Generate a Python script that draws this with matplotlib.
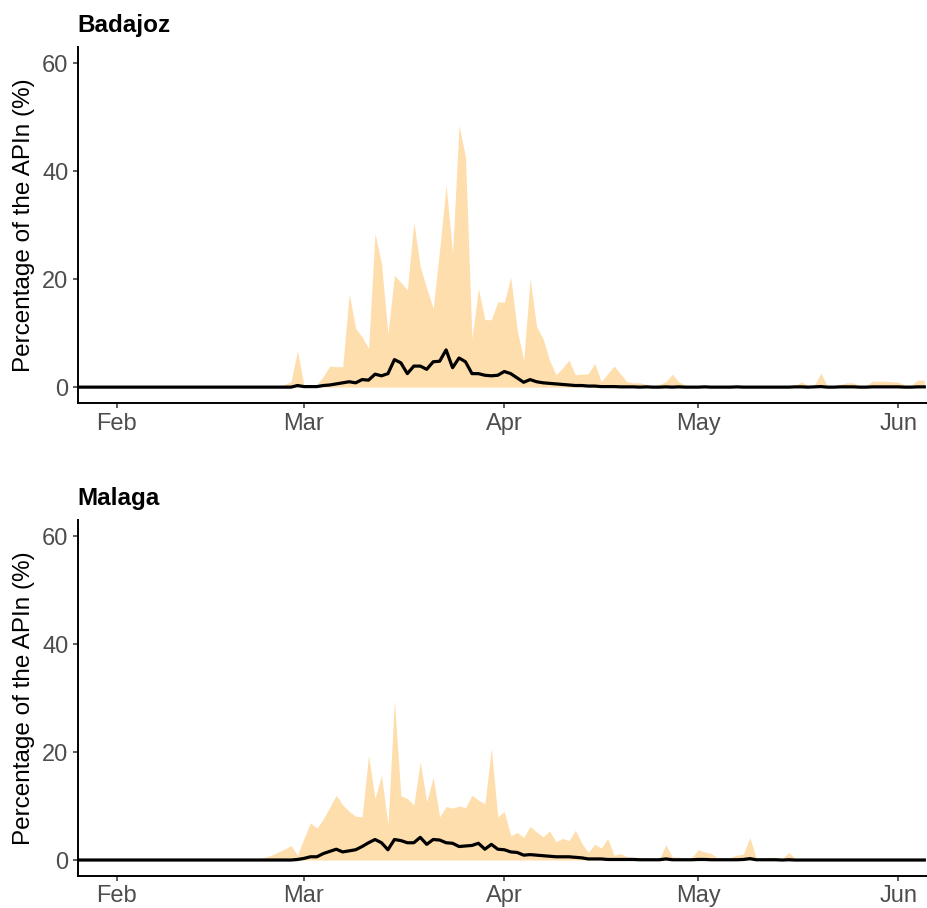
import matplotlib
matplotlib.use("Agg")
import matplotlib.pyplot as plt
import matplotlib.dates as mdates
import numpy as np
import pandas as pd

# daily values, 2020-01-26 .. 2020-06-05
start_date = "2020-01-26"
end_date = "2020-06-05"

badajoz_max = [
    0, 0, 0, 0, 0, 0, 0, 0, 0, 0,
    0, 0, 0, 0, 0, 0, 0, 0, 0, 0,
    0, 0, 0, 0, 0, 0, 0, 0, 0, 0,
    0, 0, 0.5, 1.0, 6.8, 0.3, 0.0, 0.5, 2.0, 3.9,
    3.8, 3.8, 17.3, 10.9, 9.3, 7.2, 28.5, 22.9, 9.9, 20.7,
    19.4, 18.0, 30.6, 22.3, 18.3, 14.6, 25.5, 37.4, 24.8, 48.5,
    42.6, 9.0, 18.3, 12.5, 12.5, 15.8, 15.7, 20.4, 10.6, 5.0,
    20.1, 11.2, 9.0, 5.0, 2.3, 3.5, 5.0, 2.3, 2.4, 2.5,
    4.4, 1.0, 2.5, 3.9, 2.4, 1.0, 0.8, 0.8, 0.5, 0.2,
    0.5, 1.0, 2.4, 1.0, 0.4, 0.2, 0.1, 0.1, 0.0, 0.1,
    0.0, 0.1, 0.0, 0.0, 0.1, 0.0, 0.0, 0.0, 0.1, 0.0,
    0.0, 0.3, 1.0, 0.3, 0.4, 2.6, 0.2, 0.3, 0.5, 0.8,
    0.8, 0.3, 0.3, 1.1, 1.1, 1.1, 1.0, 0.9, 0.4, 0.4,
    1.3, 1.3,
]
badajoz_mean = [
    0, 0, 0, 0, 0, 0, 0, 0, 0, 0,
    0, 0, 0, 0, 0, 0, 0, 0, 0, 0,
    0, 0, 0, 0, 0, 0, 0, 0, 0, 0,
    0, 0, 0, 0, 0.3, 0.1, 0.1, 0.1, 0.3, 0.4,
    0.6, 0.8, 1.0, 0.8, 1.4, 1.3, 2.4, 2.1, 2.5, 5.1,
    4.5, 2.5, 3.9, 3.9, 3.3, 4.7, 4.8, 6.9, 3.6, 5.4,
    4.7, 2.5, 2.5, 2.2, 2.1, 2.2, 2.9, 2.5, 1.7, 0.9,
    1.4, 1.0, 0.8, 0.7, 0.6, 0.5, 0.4, 0.3, 0.3, 0.2,
    0.2, 0.1, 0.1, 0.1, 0.05, 0.05, 0.05, 0.0, 0.05, 0.0,
    0.0, 0.05, 0.0, 0.05, 0.0, 0.0, 0.0, 0.05, 0.0, 0.0,
    0.0, 0.0, 0.05, 0.0, 0.0, 0.0, 0.0, 0.0, 0.0, 0.0,
    0.0, 0.05, 0.05, 0.0, 0.05, 0.1, 0.0, 0.0, 0.05, 0.05,
    0.05, 0.0, 0.0, 0.05, 0.05, 0.05, 0.05, 0.05, 0.0, 0.0,
    0.05, 0.05,
]

malaga_max = [
    0, 0, 0, 0, 0, 0, 0, 0, 0, 0,
    0, 0, 0, 0, 0, 0, 0, 0, 0, 0,
    0, 0, 0, 0, 0, 0, 0, 0, 0.3, 0.5,
    0.9, 1.5, 2.0, 2.7, 0.9, 4.0, 6.9, 5.9, 7.6, 9.8,
    12.0, 10.2, 9.0, 8.1, 8.0, 19.4, 11.4, 15.7, 6.5, 29.6,
    11.9, 11.4, 10.2, 18.2, 10.8, 15.3, 8.0, 9.9, 9.6, 10.0,
    9.7, 12.0, 11.1, 10.4, 20.7, 8.0, 9.0, 4.5, 5.1, 4.2,
    6.2, 5.2, 4.3, 5.4, 3.4, 4.0, 3.6, 5.5, 3.1, 1.4,
    2.9, 2.2, 4.0, 0.9, 1.2, 0.6, 0.5, 0.5, 0.0, 0.1,
    0.2, 2.8, 0.6, 0.5, 0.4, 0.5, 1.9, 1.5, 1.2, 0.4,
    0.3, 0.5, 0.9, 1.1, 4.2, 0.3, 0.3, 0.5, 0.5, 0.2,
    1.4, 0.3, 0.1, 0.0, 0.0, 0.0, 0.1, 0.1, 0.1, 0.1,
    0.1, 0.1, 0.0, 0.0, 0.0, 0.0, 0.0, 0.0, 0.0, 0.0,
    0.0, 0.0,
]
malaga_mean = [
    0, 0, 0, 0, 0, 0, 0, 0, 0, 0,
    0, 0, 0, 0, 0, 0, 0, 0, 0, 0,
    0, 0, 0, 0, 0, 0, 0, 0, 0, 0,
    0, 0, 0, 0, 0.1, 0.3, 0.6, 0.6, 1.2, 1.6,
    2.0, 1.5, 1.7, 1.9, 2.5, 3.2, 3.8, 3.2, 1.9, 3.8,
    3.6, 3.2, 3.2, 4.2, 2.9, 3.8, 3.7, 3.2, 3.1, 2.5,
    2.6, 2.7, 3.1, 2.0, 2.9, 2.0, 1.9, 1.5, 1.4, 0.9,
    1.0, 0.9, 0.8, 0.7, 0.6, 0.6, 0.6, 0.5, 0.4, 0.2,
    0.2, 0.2, 0.1, 0.1, 0.1, 0.1, 0.1, 0.05, 0.05, 0.05,
    0.05, 0.2, 0.05, 0.05, 0.05, 0.05, 0.1, 0.1, 0.05, 0.05,
    0.05, 0.05, 0.05, 0.1, 0.25, 0.05, 0.05, 0.05, 0.05, 0.0,
    0.05, 0.0, 0.0, 0.0, 0.0, 0.0, 0.0, 0.0, 0.0, 0.0,
    0.0, 0.0, 0.0, 0.0, 0.0, 0.0, 0.0, 0.0, 0.0, 0.0,
    0.0, 0.0,
]

panels = [
    ("Badajoz", badajoz_max, badajoz_mean),
    ("Malaga", malaga_max, malaga_mean),
]

dates = pd.date_range(start_date, end_date, freq="D")

plt.rcParams["font.family"] = ["Liberation Sans", "DejaVu Sans"]

fig = plt.figure(figsize=(9.27, 9.08), dpi=100)
# [left, bottom, width, height] picked to match the reference layout
boxes = [[0.0838, 0.5558, 0.9162, 0.3924],
         [0.0838, 0.0350, 0.9162, 0.3925]]

for box, (name, upper, mean) in zip(boxes, panels):
    ax = fig.add_axes(box)
    ax.fill_between(dates, 0, upper, color="#FFDEAD", linewidth=0)
    ax.plot(dates, mean, color="black", linewidth=2.3)

    ax.set_ylim(-3, 63)
    ax.set_yticks([0, 20, 40, 60])
    ax.set_xlim(pd.Timestamp("2020-01-25 23:40"), pd.Timestamp("2020-06-05 10:00"))
    ax.xaxis.set_major_locator(mdates.MonthLocator())
    ax.xaxis.set_major_formatter(mdates.DateFormatter("%b"))

    for side in ("top", "right"):
        ax.spines[side].set_visible(False)
    for side in ("left", "bottom"):
        ax.spines[side].set_linewidth(1.4)
    ax.tick_params(length=3.6, width=1.1, color="#333333",
                   labelsize=17, labelcolor="#4D4D4D")
    ax.tick_params(axis="x", pad=3)
    ax.tick_params(axis="y", pad=3)

    ax.set_ylabel("Percentage of the APIn (%)", fontsize=17.5, labelpad=5)
    ax.set_title(name, loc="left", fontsize=17.5, fontweight="bold", pad=11)

fig.savefig("out.png", dpi=100)
